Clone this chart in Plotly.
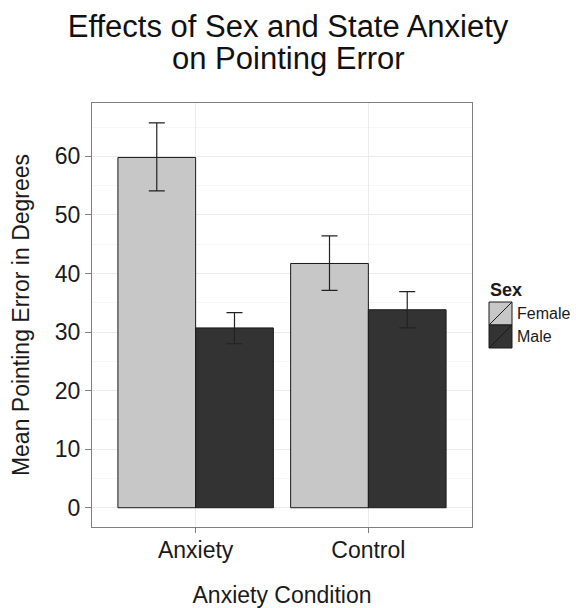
import plotly.graph_objects as go

conditions = ["Anxiety", "Control"]
sexes = ["Female", "Male"]
female_means = [59.8, 41.7]
female_upper = [65.7, 46.4]
female_lower = [54.1, 37.1]
male_means = [30.7, 33.8]
male_upper = [33.3, 36.9]
male_lower = [28.0, 30.7]
title_lines = ["Effects of Sex and State Anxiety", "on Pointing Error"]

colors = {"Female": "#c7c7c7", "Male": "#333333"}

fig = go.Figure()
for sex, means, up, lo in [("Female", female_means, female_upper, female_lower),
                           ("Male", male_means, male_upper, male_lower)]:
    fig.add_trace(go.Bar(
        x=conditions, y=means, name=sex, showlegend=False,
        marker=dict(color=colors[sex], line=dict(color="#1a1a1a", width=1)),
        error_y=dict(type="data", symmetric=False,
                     array=[u - m for u, m in zip(up, means)],
                     arrayminus=[m - l for m, l in zip(means, lo)],
                     color="#222222", thickness=1.2, width=8),
    ))

# custom legend (keys with diagonal slash, as in ggplot)
L, R, T, B = 92, 104, 103, 81
W, H = 576 - L - R, 608 - T - B
def px(x):
    return (x - L) / W
def py(y):
    return (608 - B - y) / H

key_x0, key_x1 = 489, 512
key_tops = [302, 325]
for i, sex in enumerate(sexes):
    y0, y1 = key_tops[i], key_tops[i] + 23
    fig.add_shape(type="rect", xref="paper", yref="paper",
                  x0=px(key_x0), x1=px(key_x1), y0=py(y1), y1=py(y0),
                  fillcolor=colors[sex], line=dict(color="#1a1a1a", width=1))
    fig.add_shape(type="line", xref="paper", yref="paper",
                  x0=px(key_x0), x1=px(key_x1), y0=py(y1), y1=py(y0),
                  line=dict(color="#1a1a1a", width=1))
    fig.add_annotation(text=sex, xref="paper", yref="paper",
                       x=px(515), y=py((y0 + y1) / 2), xanchor="left", yanchor="middle",
                       showarrow=False, font=dict(size=16, color="#1a1a1a"))
fig.add_annotation(text="<b>Sex</b>", xref="paper", yref="paper",
                   x=px(488), y=py(290), xanchor="left", yanchor="middle",
                   showarrow=False, font=dict(size=18, color="#1a1a1a"))

# second title line (ggplot uses tighter line spacing than Plotly)
fig.add_annotation(text=title_lines[1], xref="paper", yref="paper",
                   x=px(288), y=py(58), xanchor="center", yanchor="middle",
                   showarrow=False, font=dict(size=31, color="#111111"))

font_family = "Liberation Sans, Arial, sans-serif"
fig.update_layout(
    width=576, height=608,
    margin=dict(l=L, r=R, t=T, b=B),
    paper_bgcolor="white", plot_bgcolor="white",
    barmode="group", bargap=0.1, bargroupgap=0,
    font=dict(family=font_family, color="#1a1a1a"),
    showlegend=False,
    title=dict(text=title_lines[0],
               x=0.5, xanchor="center", xref="container",
               y=1 - 26 / 608, yanchor="middle",
               font=dict(size=31, color="#111111")),
    xaxis=dict(
        type="category", range=[-0.6, 1.6], automargin=False,
        showgrid=True, gridcolor="#ebebeb", gridwidth=1,
        ticks="outside", ticklen=5, tickcolor="#7f7f7f",
        ticklabelstandoff=-3,
        tickfont=dict(size=23, color="#1a1a1a"),
        title=dict(text="Anxiety Condition", font=dict(size=23, color="#1a1a1a"), standoff=28),
        showline=True, linecolor="#7f7f7f", linewidth=1, mirror=True,
        zeroline=False,
    ),
    yaxis=dict(
        range=[-3.29, 69.1], tickvals=[0, 10, 20, 30, 40, 50, 60], automargin=False,
        showgrid=True, gridcolor="#ebebeb", gridwidth=1,
        minor=dict(tickvals=[5, 15, 25, 35, 45, 55, 65], showgrid=True,
                   gridcolor="#f6f6f6", gridwidth=1),
        ticks="outside", ticklen=6, tickcolor="#7f7f7f",
        tickfont=dict(size=23, color="#1a1a1a"),
        title=dict(text="Mean Pointing Error in Degrees", font=dict(size=23, color="#1a1a1a"), standoff=18),
        showline=True, linecolor="#7f7f7f", linewidth=1, mirror=True,
        zeroline=False,
    ),
)

fig.write_html("out.html", config={"displayModeBar": False},
               post_script="document.body.style.margin='0';document.body.style.overflow='hidden';")
